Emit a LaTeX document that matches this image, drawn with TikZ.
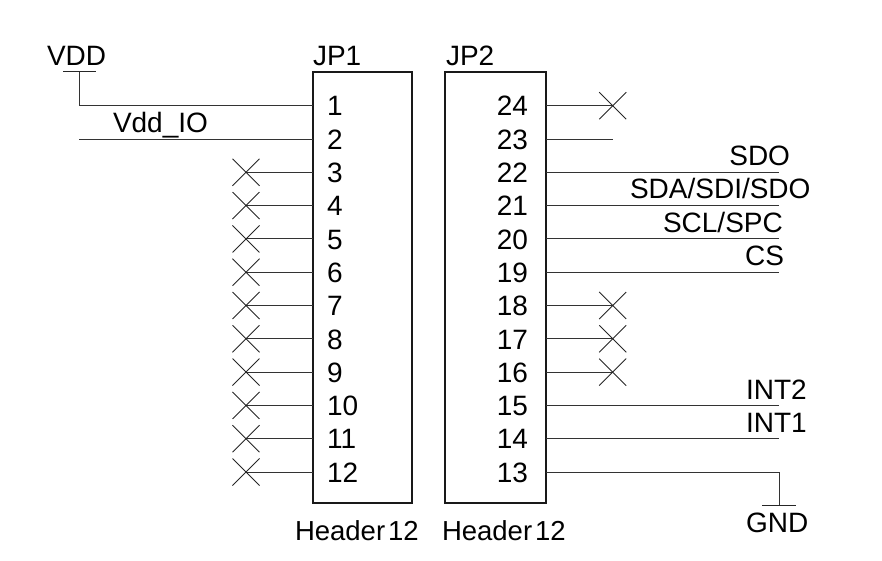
\documentclass[tikz,border=0pt]{standalone}
\usepackage{fontspec}
\setmainfont{Liberation Sans}
\tikzset{
  every node/.style={inner sep=0pt, outer sep=0pt, font=\fontsize{28}{30}\selectfont, text=black},
  lbl/.style={anchor=base west},
  lblr/.style={anchor=base east},
  header/.style={draw=black!90, line width=1.5pt, fill=none, minimum width=#1, minimum height=431pt, anchor=north west},
  wire/.style={draw=black!80, line width=0.9pt},
  xmark/.style={draw=black!85, line width=0.9pt},
  railbar/.style={draw=black!85, line width=1pt},
  hdrval/.style={anchor=base west, font=\fontsize{27.5}{30}\selectfont}
}
\begin{document}
\begin{tikzpicture}[x=1pt,y=-1pt]
\useasboundingbox (0,0) rectangle (882,561);
% headers
\node[header=99pt] (jp1) at (313,72) {};
\node[header=101pt] (jp2) at (445,72) {};
\node[lbl] (jp1name) at (313,66) {JP1};
\node[lbl] (jp2name) at (446,66) {JP2};
\node[hdrval] (jp1val) at (295,540.5) {Header\hspace{3pt}12};
\node[hdrval] (jp2val) at (442,540.5) {Header\hspace{3pt}12};
% pin coordinates and numbers
\foreach \n in {1,...,12}{
  \pgfmathsetmacro{\py}{105.7+(\n-1)*33.3}
  \coordinate (p\n) at (313,\py);
  \pgfmathsetmacro{\by}{\py+10.2}
  \node[lbl] (n\n) at (327,\by) {\n};
}
\foreach \n in {13,...,24}{
  \pgfmathsetmacro{\py}{472+(13-\n)*33.3}
  \coordinate (p\n) at (546,\py);
  \pgfmathsetmacro{\by}{\py+10.2}
  \node[lblr] (n\n) at (528,\by) {\n};
}
% not-connected pins, left
\foreach \n in {3,...,12}{
  \coordinate (x\n) at ([xshift=-67pt]p\n);
  \draw[wire] (p\n) -- (x\n);
  \draw[xmark] ([shift={(-13.5pt,-13.5pt)}]x\n) -- ([shift={(13.5pt,13.5pt)}]x\n)
               ([shift={(-13.5pt,13.5pt)}]x\n) -- ([shift={(13.5pt,-13.5pt)}]x\n);
}
% not-connected pins, right
\foreach \n in {24,18,17,16}{
  \coordinate (x\n) at ([xshift=66.7pt]p\n);
  \draw[wire] (p\n) -- (x\n);
  \draw[xmark] ([shift={(-13.5pt,-13.5pt)}]x\n) -- ([shift={(13.5pt,13.5pt)}]x\n)
               ([shift={(-13.5pt,13.5pt)}]x\n) -- ([shift={(13.5pt,-13.5pt)}]x\n);
}
% free wire 23
\coordinate (e23) at ([xshift=66.7pt]p23);
\draw[wire] (p23) -- (e23);
% VDD
\coordinate (vdd) at (79,72);
\draw[wire] (p1) -- (vdd |- p1) -- (vdd);
\draw[railbar] (63,72) -- (96,72);
\node[lbl] (vddname) at (47,66) {VDD};
% Vdd_IO
\coordinate (e2) at (79,0 |- p2);
\draw[wire] (p2) -- (e2);
\node[lbl] (vddio) at (113,132.5) {Vdd\_IO};
% right nets
\foreach \n in {22,21,20,19,15,14}{
  \coordinate (e\n) at (779,0 |- p\n);
  \draw[wire] (p\n) -- (e\n);
}
\node[lblr] (sdo) at (790,165.5) {SDO};
\node[lbl] (sda) at (630,198.5) {SDA/SDI/SDO};
\node[lbl] (scl) at (663,232) {SCL/SPC};
\node[lblr] (cs) at (784,265.5) {CS};
\node[lbl] (int2) at (746,399) {INT2};
\node[lbl] (int1) at (746,432.5) {INT1};
% GND
\coordinate (gnd) at (779,505);
\draw[wire] (p13) -- (gnd |- p13) -- (gnd);
\draw[railbar] (762,505) -- (796,505);
\node[lbl] (gndname) at (746,532) {GND};
\end{tikzpicture}
\end{document}
